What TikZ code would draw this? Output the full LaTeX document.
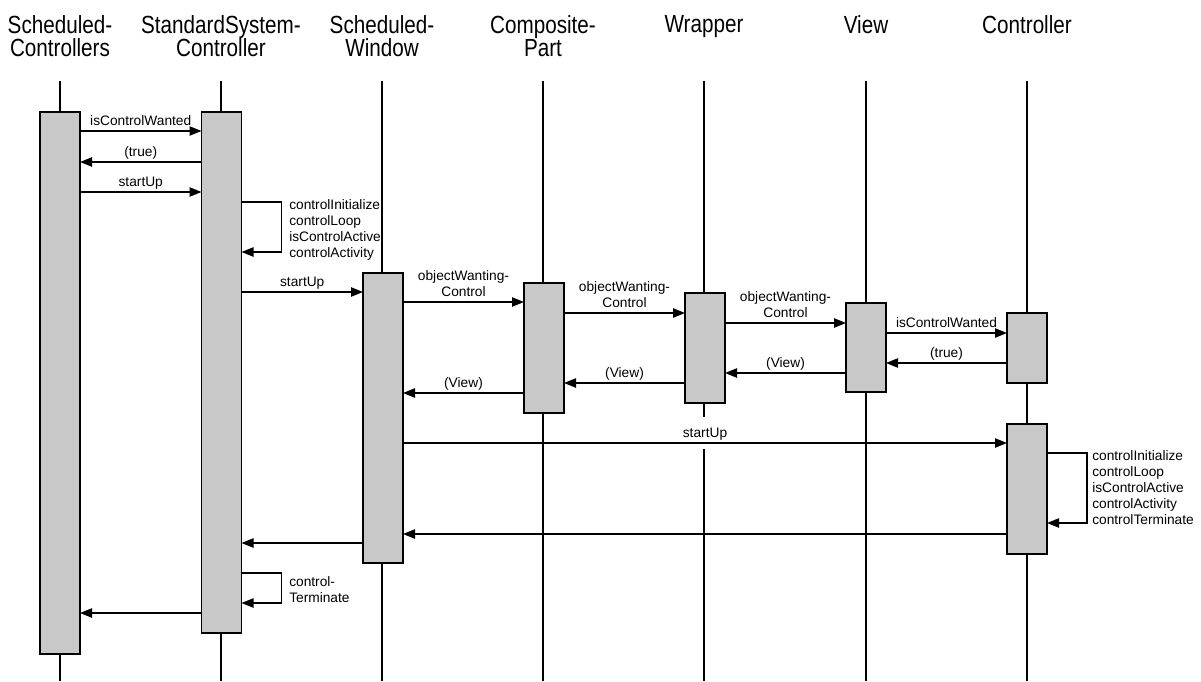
\documentclass[tikz,border=0pt]{standalone}
\usepackage{fontspec}
\setmainfont{Liberation Sans}
\usetikzlibrary{arrows.meta}
\definecolor{actfill}{RGB}{200,200,200}
\newcommand{\hstretch}[1]{\scalebox{1}[1.2]{#1}}
\newcommand{\hdrfont}{\fontsize{15.5}{17.25}\selectfont\lineskiplimit=-20pt\relax}
\begin{document}
\begin{tikzpicture}[x=0.75pt,y=-0.75pt,
  life/.style={line width=1pt},
  act/.style={draw, line width=1.4pt, fill=actfill, minimum width=30pt, inner sep=0pt, outer sep=0pt},
  msg/.style={line width=1pt, -{Triangle[length=9pt,width=7pt]}},
  lbl/.style={font=\fontsize{10.3}{12}\selectfont, anchor=south, inner sep=0pt, text depth=0pt, align=center, yshift=3.75pt},
  wlbl/.style={font=\fontsize{10.3}{12}\selectfont, anchor=center, fill=white, inner xsep=2pt, inner ysep=0pt, minimum height=24pt, text depth=0pt, yshift=7.5pt},
  hdr/.style={font=\hdrfont, anchor=north, inner sep=0pt, align=center},
  note/.style={font=\fontsize{10.3}{12}\selectfont, anchor=north west, inner sep=0pt, align=left}]
\useasboundingbox (0,0) rectangle (1201,681);

% headers
\node[hdr] (h1) at (60,15)   {\hstretch{Scheduled-}\\\hstretch{Controllers}};
\node[hdr] (h2) at (221,15)  {\hstretch{StandardSystem-}\\\hstretch{Controller}};
\node[hdr] (h3) at (382,15)  {\hstretch{Scheduled-}\\\hstretch{Window}};
\node[hdr] (h4) at (543,15)  {\hstretch{Composite-}\\\hstretch{Part}};
\node[hdr] (h5) at (704,15)  {\hstretch{Wrapper}};
\node[hdr] (h6) at (866,15)  {\hstretch{View}};
\node[hdr] (h7) at (1027,15) {\hstretch{Controller}};

% lifelines
\foreach \i/\x in {1/60,2/221,3/382,4/543,5/704,6/866,7/1027}{
  \coordinate (t\i) at (\x,81);
  \coordinate (b\i) at (\x,681);
  \draw[life] (t\i) -- (b\i);
}

% activation boxes
\node[act, minimum height=406.5pt] (a1) at (60,383) {};
\node[act, minimum height=390.75pt] (a2) at (221.5,372.5) {};
\node[act, minimum height=217.5pt] (a3) at (383,418) {};
\node[act, minimum height=97.5pt] (a4) at (544,348) {};
\node[act, minimum height=82.5pt] (a5) at (705,348) {};
\node[act, minimum height=66.75pt] (a6) at (866,347.5) {};
\node[act, minimum height=52.5pt] (a7) at (1027,348) {};
\node[act, minimum height=97.5pt] (a8) at (1027,489) {};

% messages
\draw[msg] (a1.east |- 0,131) -- node[lbl] {isControlWanted} (a2.west |- 0,131);
\draw[msg] (a2.west |- 0,162) -- node[lbl] {(true)} (a1.east |- 0,162);
\draw[msg] (a1.east |- 0,192) -- node[lbl] {startUp} (a2.west |- 0,192);

\draw[msg] (a2.east |- 0,202) -- ++(40,0) |- (a2.east |- 0,252);
\node[note] (n1) at (289,199) {controlInitialize\\controlLoop\\isControlActive\\controlActivity};

\draw[msg] (a2.east |- 0,292) -- node[lbl] {startUp} (a3.west |- 0,292);
\draw[msg] (a3.east |- 0,302) -- node[lbl] {objectWanting-\\Control} (a4.west |- 0,302);
\draw[msg] (a4.east |- 0,313) -- node[lbl] {objectWanting-\\Control} (a5.west |- 0,313);
\draw[msg] (a5.east |- 0,323) -- node[lbl] {objectWanting-\\Control} (a6.west |- 0,323);
\draw[msg] (a6.east |- 0,333) -- node[lbl] {isControlWanted} (a7.west |- 0,333);
\draw[msg] (a7.west |- 0,363) -- node[lbl] {(true)} (a6.east |- 0,363);
\draw[msg] (a6.west |- 0,373) -- node[lbl] {(View)} (a5.east |- 0,373);
\draw[msg] (a5.west |- 0,383) -- node[lbl] {(View)} (a4.east |- 0,383);
\draw[msg] (a4.west |- 0,393) -- node[lbl] {(View)} (a3.east |- 0,393);

\path (a3.east |- 0,443) -- node[wlbl] (l14) {startUp} (a8.west |- 0,443);
\draw[msg] (a3.east |- 0,443) -- (a8.west |- 0,443);

\draw[msg] (a8.east |- 0,453) -- ++(40,0) |- (a8.east |- 0,523);
\node[note] (n2) at (1092,450) {controlInitialize\\controlLoop\\isControlActive\\controlActivity\\controlTerminate};

\draw[msg] (a8.west |- 0,534) -- (a3.east |- 0,534);
\draw[msg] (a3.west |- 0,543) -- (a2.east |- 0,543);

\draw[msg] (a2.east |- 0,573) -- ++(40,0) |- (a2.east |- 0,603);
\node[note] (n3) at (289,576) {control-\\Terminate};

\draw[msg] (a2.west |- 0,613) -- (a1.east |- 0,613);
\end{tikzpicture}
\end{document}
